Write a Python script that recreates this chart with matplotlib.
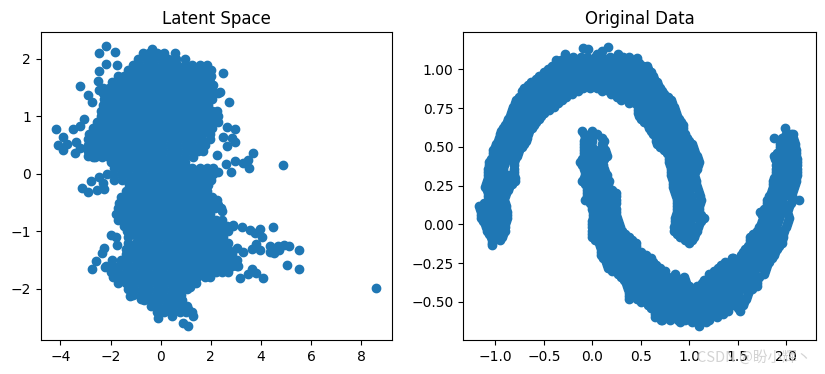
import matplotlib
matplotlib.use("Agg")
import matplotlib.pyplot as plt

# Latent space: values, one row of points per y level
latent_row_y = [2.1,2.0,1.9,1.8,1.7,1.6,1.5,1.4,1.3,1.2,1.1,1.0,0.9,0.8,0.7,0.6,0.5,0.4,0.3,0.2,0.1,0.0,
                -0.1,-0.2,-0.3,-0.4,-0.5,-0.6,-0.7,-0.8,-0.9,-1.0,-1.1,-1.2,-1.3,-1.4,-1.5,-1.6,-1.7,-1.8,
                -1.9,-2.0,-2.1,-2.2,-2.3,-2.4]
latent_row_x = [
 [-.7,-.45,-.15,.15,.55],
 [-.9,-.6,-.3,0,.3,.6,.95],
 [-1.1,-.85,-.55,-.25,.05,.35,.65,.95,1.25,1.55,1.85],
 [-1.3,-1,-.7,-.4,-.1,.2,.5,.8,1.1,1.4,1.7,2.0],
 [-1.7,-1.45,-1.15,-.85,-.55,-.25,.05,.35,.65,.95,1.25,1.55,1.85,2.0],
 [-1.95,-1.6,-1.3,-1,-.7,-.4,-.1,.2,.5,.8,1.1,1.4,1.7,1.95],
 [-2.3,-2.05,-1.75,-1.45,-1.15,-.85,-.55,-.25,.05,.35,.65,.95,1.25,1.55,1.85,2.0],
 [-2.3,-2.1,-1.9,-1.6,-1.3,-1,-.7,-.4,-.1,.2,.5,.8,1.1,1.4,1.7,2.0,2.15,2.3],
 [-2.25,-2.05,-1.75,-1.45,-1.15,-.85,-.55,-.25,.05,.35,.65,.95,1.25,1.55,1.85,2.05],
 [-2.3,-2.1,-1.9,-1.6,-1.3,-1,-.7,-.4,-.1,.2,.5,.8,1.1,1.4,1.7,1.9],
 [-2.4,-2.05,-1.75,-1.45,-1.15,-.85,-.55,-.25,.05,.35,.65,.95,1.25,1.55,1.85,2.05,2.25],
 [-2.4,-2.1,-1.8,-1.5,-1.2,-.9,-.6,-.3,0,.3,.6,.9,1.2,1.5,1.8,2.1,2.3],
 [-2.55,-2.25,-1.95,-1.65,-1.35,-1.05,-.75,-.45,-.15,.15,.45,.75,1.05,1.35,1.65,1.95,2.1,2.3],
 [-2.7,-2.4,-2.1,-1.8,-1.5,-1.2,-.9,-.6,-.3,0,.3,.6,.9,1.2,1.5,1.8,2.05],
 [-2.85,-2.55,-2.25,-1.95,-1.65,-1.35,-1.05,-.75,-.45,-.15,.15,.45,.75,1.05,1.35,1.65,1.95],
 [-2.9,-2.6,-2.3,-2,-1.7,-1.4,-1.1,-.8,-.5,-.2,.1,.4,.7,1,1.3,1.6,1.95],
 [-2.9,-2.65,-2.35,-2.05,-1.75,-1.45,-1.15,-.85,-.55,-.25,.05,.35,.65,.95,1.25,1.55,1.75],
 [-2.9,-2.6,-2.3,-2,-1.7,-1.4,-1.1,-.8,-.5,-.2,.1,.4,.7,1,1.3,1.5,1.7],
 [-2.7,-2.35,-2.05,-1.75,-1.45,-1.15,-.85,-.55,-.25,.05,.35,.65,.95,1.3],
 [-2.0,-1.7,-1.4,-1.1,-.8,-.5,-.2,.1,.4,.7,.95],
 [-1.85,-1.55,-1.25,-.95,-.65,-.35,-.05,.25,.55,.8,1.05,1.25,1.55,1.85,2.1],
 [-1.9,-1.6,-1.3,-1,-.7,-.4,-.1,.2,.5,.8,1.1,1.4,1.7,1.9,2.1],
 [-1.85,-1.55,-1.2,-.85,-.55,-.25,.05,.35,.65,.95,1.25,1.55,1.85,2.0],
 [-1.25,-1,-.7,-.4,-.1,.2,.5,.8,1.1,1.4,1.7,1.9],
 [-1.4,-1.15,-.85,-.55,-.25,.05,.35,.65,.95,1.25,1.55,1.85],
 [-1.6,-1.3,-1,-.7,-.4,-.1,.2,.5,.8,1.1,1.4,1.7,1.9,2.05],
 [-1.65,-1.45,-1.15,-.85,-.55,-.25,.05,.35,.65,.95,1.25,1.55,1.85,2.05,2.25],
 [-1.7,-1.4,-1.1,-.8,-.5,-.2,.1,.4,.7,1,1.3,1.6,1.9,2.15,2.4],
 [-1.8,-1.55,-1.25,-.95,-.65,-.35,-.05,.25,.55,.85,1.15,1.45,1.75,1.95],
 [-1.7,-1.4,-1.1,-.8,-.5,-.2,.1,.4,.7,1,1.3,1.6,1.9,2.2,2.45],
 [-1.45,-1.25,-.95,-.65,-.35,-.05,.25,.55,.85,1.15,1.45,1.75,2.05,2.35,2.65,2.9],
 [-1.35,-1.1,-.8,-.5,-.2,.1,.4,.7,1,1.3,1.6,1.9,2.2,2.45,2.7],
 [-1.3,-.95,-.65,-.35,-.05,.25,.55,.85,1.15,1.45,1.75,2.05,2.3,2.5],
 [-1.3,-1,-.7,-.4,-.1,.2,.5,.8,1.1,1.4,1.7,2,2.3,2.5,2.7],
 [-1.4,-1.15,-.85,-.55,-.25,.05,.35,.65,.95,1.25,1.55,1.85,2.15,2.4,2.7],
 [-1.4,-1.1,-.8,-.5,-.2,.1,.4,.7,1,1.3,1.6,1.9,2.2,2.5,2.85],
 [-1.6,-1.3,-.95,-.65,-.35,-.05,.25,.55,.85,1.15,1.45,1.75,2.05,2.35,2.65,2.85,3.05],
 [-2.2,-1.95,-1.65,-1.35,-1.05,-.75,-.45,-.15,.15,.45,.75,1.05,1.35,1.65,1.95,2.25,2.55,2.85,3.05],
 [-2.0,-1.7,-1.4,-1.1,-.8,-.5,-.2,.1,.4,.7,1,1.3,1.6,1.9,2.2,2.45,2.7],
 [-1.9,-1.55,-1.25,-.95,-.65,-.35,-.05,.25,.55,.85,1.15,1.45,1.75,1.95],
 [-1.7,-1.4,-1.1,-.8,-.5,-.2,.1,.4,.7,1,1.2,1.4],
 [-1.3,-1.05,-.75,-.45,-.15,.15,.45,.75,1.05],
 [-1.1,-.8,-.5,-.2,.1,.4,.6,.8],
 [-.65,-.35,-.05,.25,.55,.85],
 [-.4,-.1,.2,.5,.8,1.05],
 [-.15,.15,.45,.75,1.0,1.25],
]
latent_extra_x = [-2.17,-2.45,-1.84,-2.2,-1.73,-2.45,-2.49,-3.22,-2.89,-2.75,-2.45,2.47,2.37,2.74,2.1,
                  -4.18,-3.51,-3.08,-3.24,-3.92,-4.08,-3.92,-3.75,-3.38,-3.42,-3.22,-2.89,-2.62,
                  2.63,2.97,2.47,2.83,2.97,2.63,2.26,2.97,3.3,3.5,3.7,3.54,4.87,2.6,2.79,2.3,
                  -2.89,-3.13,-2.79,-2.46,-2.55,-2.26,-2.29,-2.15,
                  2.23,2.43,2.3,2.9,3.23,3.56,3.76,3.96,4.49,4.06,3.79,3.63,3.96,4.34,4.36,4.52,
                  4.73,4.69,4.93,5.12,5.53,5.05,5.53,8.6,4.1,3.79,3.66,3.5,3.16,3.1,3.27,3.06,
                  -1.98,-1.8,-1.76,-2.26,-2.35,-2.58,-2.75,-2.22,-1.95,
                  -1.22,-.8,-.09,.44,1.3,.9,1.1,1.08,1.17,-.36]
latent_extra_y = [2.23,2.10,2.13,1.92,1.9,1.79,1.62,1.53,1.37,1.25,1.46,1.75,1.43,1.26,1.55,
                  .79,.78,.95,.83,.64,.5,.41,.52,.56,.36,.45,.31,.3,
                  .82,.78,.65,.62,.56,.48,.33,.23,.19,.24,.36,.1,.16,.17,.04,.04,
                  -.31,-.25,-.12,-.05,-.28,-.26,-.16,0,
                  -.45,-.64,-.54,-.89,-.93,-.97,-1.03,-.96,-.92,-1.1,-1.21,-1.31,-1.32,-1.25,-1.36,-1.38,
                  -1.32,-1.26,-1.23,-1.26,-1.32,-1.59,-1.66,-1.99,-1.81,-1.73,-1.66,-1.74,-1.81,-1.6,-1.36,-1.29,
                  -1.06,-1.09,-1.23,-1.29,-1.38,-1.52,-1.66,-1.61,-1.5,
                  -2.12,-2.18,-2.51,-2.47,-2.47,-2.59,-2.64,-2.34,-1.96,2.17]

# Original data: two moons, one row of points per y level
moon_row_y = [1.08,1.04,1.0,.96,.92,.88,.84,.80,.76,.72,.68,.64,.60,.56,.52,.48,.44,.40,.36,.32,.28,.24,.20,.16,.12,.08,.04,0,
              -.04,-.08,-.12,-.16,-.2,-.24,-.28,-.32,-.36,-.40,-.44,-.48,-.52,-.56,-.60]
moon_row_x = [
 [-.27,-.2,-.12,-.05,.03,.1,.18,.25,.32,.38],
 [-.37,-.3,-.22,-.15,-.07,0,.08,.15,.23,.3,.38,.48],
 [-.46,-.38,-.31,-.23,-.16,-.08,-.01,.07,.14,.22,.29,.37,.44,.5,.57],
 [-.55,-.48,-.4,-.33,-.25,-.18,-.1,-.03,.05,.12,.2,.27,.35,.42,.5,.56,.62],
 [-.63,-.55,-.47,-.4,-.32,-.25,-.17,-.1,-.02,.05,.13,.2,.28,.35,.43,.5,.58,.67],
 [-.7,-.62,-.55,-.47,-.4,-.32,-.25,-.17,-.1,-.02,.05,.13,.2,.28,.35,.43,.5,.58,.64,.7],
 [-.73,-.66,-.58,-.51,-.43,-.36,-.28,-.21,.19,.27,.34,.42,.49,.57,.64,.69,.74],
 [-.79,-.71,-.64,-.56,-.49,-.41,-.31,.3,.38,.45,.53,.6,.68,.75,.81],
 [-.82,-.75,-.67,-.6,-.52,-.45,-.4,.47,.54,.62,.69,.77,.84],
 [-.84,-.77,-.69,-.62,-.56,-.5,.47,.55,.62,.7,.77,.86],
 [-.87,-.79,-.72,-.64,-.55,.5,.58,.65,.73,.8,.89],
 [-.9,-.82,-.75,-.67,-.6,.57,.64,.72,.79,.86,.93],
 [-.94,-.86,-.79,-.71,-.65,-.11,0,.6,.68,.75,.83,.93],
 [-.96,-.88,-.81,-.73,-.67,-.08,.0,.1,.66,.73,.81,.88,.98,1.87,1.95,2.03,2.07],
 [-.99,-.91,-.84,-.76,-.7,-.09,-.01,.1,.67,.75,.82,.9,.97,1.03,1.93,2.0,2.09],
 [-1.02,-.94,-.87,-.8,-.76,-.09,-.01,.07,.13,.74,.82,.89,.97,1.05,1.93,2.0,2.1],
 [-1.02,-.95,-.87,-.78,-.09,-.01,.07,.15,.79,.87,.94,1.02,1.08,1.87,1.95,2.03,2.1],
 [-1.06,-.98,-.9,-.81,-.13,-.05,.03,.09,.79,.87,.94,1.02,1.1,1.9,1.98,2.05,2.11],
 [-1.08,-1,-.92,-.81,-.09,-.01,.06,.12,.81,.89,.96,1.03,1.08,1.89,1.96,2.04,2.11],
 [-1.08,-1,-.93,-.86,-.81,-.08,0,.08,.15,.81,.89,.97,1.05,1.89,1.97,2.04,2.11],
 [-1.09,-1.01,-.94,-.86,-.8,-.11,-.03,.05,.12,.17,.83,.91,.98,1.07,1.86,1.94,2.02,2.1],
 [-1.11,-1.03,-.95,-.86,-.06,.02,.1,.15,.83,.91,.98,1.08,1.86,1.93,2.01,2.08],
 [-1.08,-1,-.94,-.89,-.05,.03,.11,.19,.24,.85,.93,1.0,1.1,1.84,1.91,1.99,2.06],
 [-1.08,-1,-.91,-.08,0,.08,.16,.24,.87,.95,1.03,1.12,1.8,1.88,1.95,2.06,2.13],
 [-1.17,-1.09,-1.01,-.95,-.89,.0,.08,.16,.23,.87,.95,1.03,1.1,1.8,1.88,1.95,2.03],
 [-1.15,-1.07,-.99,-.93,-.88,.01,.09,.17,.24,.87,.95,1.03,1.1,1.73,1.81,1.88,1.96,2.01],
 [-1.15,-1.07,-.99,-.93,-.88,.01,.09,.17,.25,.85,.93,1.01,1.09,1.15,1.77,1.85,1.92,2.03],
 [-1.11,-1.03,-.95,-.9,.0,.08,.16,.22,.27,.85,.93,1.01,1.1,1.74,1.82,1.9,2.01],
 [-1.09,-1.01,-.95,-.9,.0,.08,.16,.24,.31,.84,.92,1.0,1.08,1.7,1.78,1.86,1.93,1.98],
 [-1.04,-.98,-.93,.0,.08,.16,.24,.32,.38,.9,.98,1.05,1.62,1.7,1.78,1.86,1.96],
 [-1.03,.07,.15,.23,.31,.39,.45,1.0,1.62,1.7,1.78,1.86,1.95],
 [.09,.17,.25,.33,.41,.45,1.57,1.65,1.73,1.81,1.9],
 [.09,.17,.25,.33,.41,.49,.55,1.53,1.61,1.69,1.77,1.87],
 [.14,.22,.3,.38,.46,.54,.63,1.37,1.45,1.53,1.61,1.69,1.76,1.82],
 [.16,.24,.32,.4,.48,.56,.64,.7,1.3,1.38,1.46,1.54,1.62,1.7,1.79],
 [.26,.34,.42,.5,.58,.66,.74,.85,1.2,1.27,1.35,1.43,1.51,1.59,1.67,1.77],
 [.33,.41,.49,.57,.65,.73,.81,.89,.95,1.15,1.21,1.29,1.37,1.45,1.53,1.61,1.7],
 [.36,.44,.52,.6,.68,.76,.84,.92,1,1.08,1.16,1.24,1.32,1.4,1.48,1.56,1.64,1.7],
 [.38,.46,.54,.62,.7,.78,.86,.94,1.02,1.1,1.18,1.26,1.34,1.42,1.5,1.6],
 [.38,.46,.54,.62,.7,.78,.86,.94,1.02,1.1,1.18,1.26,1.34,1.42,1.5,1.58],
 [.57,.65,.73,.81,.89,.97,1.05,1.13,1.21,1.29,1.37,1.45,1.55],
 [.65,.73,.81,.89,.97,1.05,1.13,1.21,1.29,1.4,1.52],
 [.65,.73,.81,.89,.97,1.05,1.13,1.21,1.28],
]
moon_mid_y = [1.06,1.02,.98,.94,.90,.86,.82,.78,.74,.70,.66,.62,.58,.54,.50,.46,.42,.38,.34,.30,.26,.22,.18,.14,.10,.06,.02,
              -.02,-.06,-.10,-.14,-.18,-.22,-.26,-.30,-.34,-.38,-.42,-.46,-.50,-.54,-.58,-.62]
moon_mid_x = [
 [-.32,-.24,-.16,-.09,-.01,.06,.14,.21,.29,.36,.42],
 [-.42,-.34,-.26,-.19,-.11,-.04,.04,.11,.19,.26,.34,.41,.47,.52],
 [-.5,-.42,-.35,-.27,-.2,-.12,-.05,.03,.1,.18,.25,.33,.4,.48,.54,.6],
 [-.58,-.51,-.44,-.36,-.29,-.21,-.14,-.06,.01,.09,.16,.24,.31,.39,.46,.54,.64],
 [-.66,-.59,-.51,-.44,-.36,-.29,-.21,-.14,-.06,.01,.09,.16,.24,.31,.39,.46,.54,.62,.68],
 [-.72,-.65,-.57,-.5,-.42,-.35,-.27,-.2,-.15,.1,.17,.24,.32,.39,.47,.54,.62,.72],
 [-.76,-.68,-.61,-.53,-.46,-.38,-.31,-.27,.25,.31,.38,.46,.53,.61,.68,.78],
 [-.8,-.73,-.65,-.58,-.5,-.43,-.35,.38,.44,.51,.59,.66,.74,.82],
 [-.83,-.76,-.68,-.61,-.53,-.45,.47,.55,.62,.7,.78,.85],
 [-.85,-.78,-.7,-.63,-.53,.48,.56,.63,.71,.79,.87],
 [-.88,-.8,-.73,-.65,-.58,.53,.6,.68,.76,.83,.91],
 [-.92,-.84,-.77,-.69,-.62,.58,.66,.73,.81,.88,.93],
 [-.95,-.87,-.8,-.72,-.66,-.09,.05,.63,.71,.78,.86,.95,2.0,2.05],
 [-.97,-.9,-.82,-.75,-.68,-.09,.0,.12,.66,.74,.81,.89,1.0,1.93,2.0,2.08],
 [-1.0,-.92,-.85,-.78,-.73,-.09,.0,.11,.7,.78,.85,.93,1.04,1.93,2.0,2.09],
 [-1.02,-.95,-.87,-.77,-.09,-.01,.07,.14,.77,.85,.92,1.0,1.06,1.9,1.98,2.05,2.1],
 [-1.04,-.96,-.88,-.8,-.11,-.03,.05,.12,.79,.86,.94,1.01,1.09,1.88,1.96,2.03,2.11],
 [-1.07,-.99,-.91,-.81,-.11,-.03,.05,.11,.8,.88,.95,1.02,1.09,1.89,1.97,2.04,2.11],
 [-1.08,-1,-.92,-.81,-.08,0,.07,.13,.81,.88,.96,1.06,1.89,1.96,2.04,2.11],
 [-1.08,-1,-.92,-.8,-.09,-.01,.07,.15,.82,.9,.98,1.06,1.87,1.95,2.02,2.1],
 [-1.1,-1.02,-.94,-.83,-.08,0,.08,.16,.83,.91,.99,1.07,1.86,1.94,2.01,2.09],
 [-1.09,-1.01,-.93,-.87,-.05,.03,.11,.2,.84,.92,1.0,1.09,1.85,1.93,2.0,2.07],
 [-1.08,-1,-.95,-.9,-.06,.02,.1,.18,.24,.86,.94,1.02,1.11,1.82,1.9,1.98,2.06],
 [-1.12,-1.04,-.96,-.9,-.02,.06,.14,.24,.87,.95,1.03,1.11,1.8,1.88,1.96,2.05],
 [-1.16,-1.08,-1,-.94,-.89,0,.08,.16,.24,.87,.95,1.03,1.1,1.77,1.85,1.93,2.02],
 [-1.15,-1.07,-.99,-.93,-.88,.01,.09,.17,.24,.86,.94,1.02,1.12,1.75,1.83,1.91,2.02],
 [-1.13,-1.05,-.97,-.89,.0,.08,.16,.26,.85,.93,1.01,1.12,1.75,1.83,1.91,2.02],
 [-1.1,-1.02,-.96,-.9,0,.08,.16,.24,.29,.84,.92,1.0,1.09,1.72,1.8,1.88,2.0],
 [-1.07,-.99,-.92,0,.08,.16,.24,.34,.87,.95,1.06,1.66,1.74,1.82,1.9,1.97],
 [-1.03,-.95,.03,.11,.19,.27,.35,.41,.95,1.03,1.62,1.7,1.78,1.86,1.95],
 [.08,.16,.24,.32,.4,.45,1.6,1.68,1.76,1.84,1.92],
 [.09,.17,.25,.33,.41,.5,1.55,1.63,1.71,1.79,1.88],
 [.11,.19,.27,.35,.43,.51,.6,1.45,1.53,1.61,1.69,1.77,1.85],
 [.15,.23,.31,.39,.47,.55,.66,1.33,1.41,1.49,1.57,1.65,1.73,1.8],
 [.2,.28,.36,.44,.52,.6,.68,.75,1.25,1.33,1.41,1.49,1.57,1.65,1.78],
 [.3,.38,.46,.54,.62,.7,.78,.86,.94,1.2,1.28,1.36,1.44,1.52,1.6,1.72],
 [.35,.43,.51,.59,.67,.75,.83,.91,.97,1.13,1.2,1.28,1.36,1.44,1.52,1.6,1.7],
 [.37,.45,.53,.61,.69,.77,.85,.93,1.01,1.09,1.17,1.25,1.33,1.41,1.49,1.57,1.65],
 [.38,.46,.54,.62,.7,.78,.86,.94,1.02,1.1,1.18,1.26,1.34,1.42,1.5,1.59],
 [.5,.58,.66,.74,.82,.9,.98,1.06,1.14,1.22,1.3,1.38,1.46,1.56],
 [.6,.68,.76,.84,.92,1,1.08,1.16,1.24,1.32,1.4,1.5],
 [.65,.73,.81,.89,.97,1.05,1.13,1.21,1.35],
 [.72,.8,.88,.96,1.04,1.12,1.2],
]
moon_extra_x = [-.10,-.04,.165,.26,-.28,.46,.56,-.375,.1,.05,1.99,2.07,-1.03,1.0,1.44,1.1,.71,.9,1.03,1.17]
moon_extra_y = [1.135,1.13,1.145,1.10,1.10,1.07,1.02,1.06,1.12,1.10,.62,.585,-.13,-.11,-.22,-.655,-.62,-.63,-.63,-.63]

panel_titles = ["Latent Space", "Original Data"]
latent_xticks = [-4, -2, 0, 2, 4, 6, 8]
latent_yticks = [-2, -1, 0, 1, 2]
moon_xticks = [-1.0, -0.5, 0.0, 0.5, 1.0, 1.5, 2.0]
moon_yticks = [-0.50, -0.25, 0.00, 0.25, 0.50, 0.75, 1.00]
watermark = "CSDN @盼小辉丶"

def flatten(row_y, row_x):
    xs, ys = [], []
    for y, row in zip(row_y, row_x):
        xs.extend(row)
        ys.extend([y] * len(row))
    return xs, ys

W, H = 825, 374
fig = plt.figure(figsize=(W / 100, H / 100), dpi=100)
ax1 = fig.add_axes([40.7 / W, 1 - 340.3 / H, 351.6 / W, 308 / H])
ax2 = fig.add_axes([463.3 / W, 1 - 340.3 / H, 352.4 / W, 308 / H])

x1, y1 = flatten(latent_row_y, latent_row_x)
ax1.scatter(x1 + latent_extra_x, y1 + latent_extra_y)
ax1.set_xlim(-4.79, 9.24)
ax1.set_ylim(-2.893, 2.464)
ax1.set_xticks(latent_xticks)
ax1.set_yticks(latent_yticks)
ax1.set_title(panel_titles[0])

x2a, y2a = flatten(moon_row_y, moon_row_x)
x2b, y2b = flatten(moon_mid_y, moon_mid_x)
ax2.scatter(x2a + x2b + moon_extra_x, y2a + y2b + moon_extra_y)
ax2.set_xlim(-1.33, 2.302)
ax2.set_ylim(-0.748, 1.239)
ax2.set_xticks(moon_xticks)
ax2.set_yticks(moon_yticks)
ax2.set_title(panel_titles[1])

fig.text(697 / W, 1 - 358 / H, watermark, fontsize=10.5, color="#c8c8c8", alpha=0.8,
         family=["Noto Sans CJK SC", "DejaVu Sans"], va="center", ha="left", zorder=10)

fig.savefig("out.png", dpi=100)
